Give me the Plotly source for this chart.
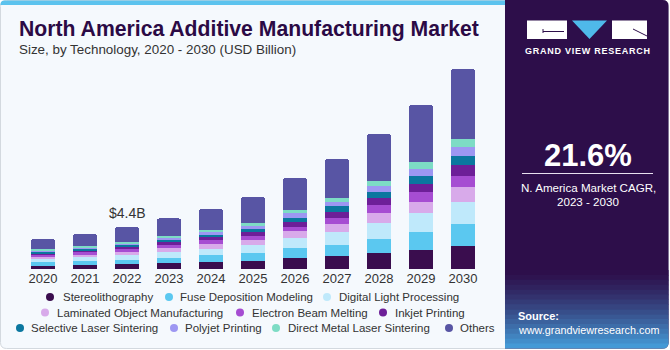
import plotly.graph_objects as go

# ---------------- data ----------------
years = ["2020", "2021", "2022", "2023", "2024", "2025", "2026", "2027", "2028", "2029", "2030"]

stereolithography = [0.35, 0.42, 0.49, 0.59, 0.73, 0.84, 1.11, 1.32, 1.67, 1.95, 2.44]
fuse_deposition = [0.35, 0.42, 0.49, 0.59, 0.70, 0.84, 1.04, 1.22, 1.50, 1.88, 2.27]
digital_light = [0.35, 0.38, 0.45, 0.56, 0.70, 0.87, 1.04, 1.36, 1.60, 1.99, 2.33]
laminated_object = [0.24, 0.28, 0.35, 0.42, 0.45, 0.52, 0.73, 0.84, 1.04, 1.22, 1.50]
electron_beam = [0.21, 0.24, 0.28, 0.35, 0.42, 0.42, 0.52, 0.63, 0.84, 0.98, 1.22]
inkjet = [0.17, 0.21, 0.24, 0.28, 0.35, 0.42, 0.49, 0.63, 0.73, 0.91, 1.12]
selective_laser = [0.14, 0.17, 0.21, 0.24, 0.24, 0.31, 0.45, 0.56, 0.66, 0.84, 0.97]
polyjet = [0.14, 0.14, 0.17, 0.21, 0.24, 0.31, 0.42, 0.45, 0.59, 0.66, 0.87]
direct_metal = [0.10, 0.14, 0.17, 0.21, 0.24, 0.31, 0.35, 0.45, 0.56, 0.73, 0.87]
others = [1.08, 1.29, 1.55, 1.85, 2.19, 2.68, 3.38, 4.04, 4.95, 5.99, 7.32]

series_names = ["Stereolithography", "Fuse Deposition Modeling", "Digital Light Processing",
                "Laminated Object Manufacturing", "Electron Beam Melting", "Inkjet Printing",
                "Selective Laser Sintering", "Polyjet Printing", "Direct Metal Laser Sintering", "Others"]
series_values = [stereolithography, fuse_deposition, digital_light, laminated_object, electron_beam,
                 inkjet, selective_laser, polyjet, direct_metal, others]

highlight_year = "2022"
cagr_text = "21.6%"

# ---------------- style ----------------
colors = ["#3a0d4e", "#5bc8f0", "#bfe9fb", "#d8aaea", "#a64dd2",
          "#6d1f98", "#0b779f", "#9d97f2", "#7ddcc5", "#5855a4"]

W, H = 670, 350
FONT = "Liberation Sans"
TXT = "#333333"


def X(px):
    return px / W


def Y(py):
    return 1 - py / H


def rrect_path(x0, y0, x1, y1, rtl=0, rtr=0, rbr=0, rbl=0):
    # pixel coordinates -> paper path
    def p(x, y):
        return f"{X(x):.5f},{Y(y):.5f}"
    s = f"M {p(x0 + rtl, y0)} L {p(x1 - rtr, y0)} Q {p(x1, y0)} {p(x1, y0 + rtr)} "
    s += f"L {p(x1, y1 - rbr)} Q {p(x1, y1)} {p(x1 - rbr, y1)} "
    s += f"L {p(x0 + rbl, y1)} Q {p(x0, y1)} {p(x0, y1 - rbl)} "
    s += f"L {p(x0, y0 + rtl)} Q {p(x0, y0)} {p(x0 + rtl, y0)} Z"
    return s


fig = go.Figure()
for name, vals, col in zip(series_names, series_values, colors):
    fig.add_trace(go.Bar(x=years, y=vals, name=name, marker_color=col,
                         marker_line_width=0, showlegend=False,
                         hovertemplate="%{x}: %{y:.2f}<extra>" + name + "</extra>"))

plot_left, plot_right, plot_top, plot_bottom = 22, 484, 60, 269
px_per_unit = 9.57
ymax = (plot_bottom - plot_top) / px_per_unit

shapes = []
# card
shapes.append(dict(type="path", xref="paper", yref="paper",
                   path=rrect_path(0.5, 0.5, 668.5, 348.5, 6, 6, 6, 6),
                   fillcolor="#f5f9fd", line=dict(color="#d3d9df", width=1), layer="below"))
# top blue strip
shapes.append(dict(type="path", xref="paper", yref="paper",
                   path=rrect_path(0.5, 0.5, 506, 5, 4, 0, 0, 0),
                   fillcolor="#5cc3ee", line=dict(width=0), layer="below"))
# right panel
shapes.append(dict(type="path", xref="paper", yref="paper",
                   path=rrect_path(505, 0, 668.5, 348.5, 0, 6, 6, 0),
                   fillcolor="#2d0e4a", line=dict(width=0), layer="below"))
# gradient at panel bottom
n_strips = 16
g_top, g_bot = 270, 348.5
c0 = (45, 14, 74)
c1 = (70, 160, 220)
for i in range(n_strips):
    t = (i + 0.5) / n_strips
    t2 = t ** 1.3
    c = tuple(int(c0[k] + (c1[k] - c0[k]) * t2) for k in range(3))
    y0 = g_top + (g_bot - g_top) * i / n_strips
    y1 = g_top + (g_bot - g_top) * (i + 1) / n_strips + 0.6
    rb = 6 if i == n_strips - 1 else 0
    shapes.append(dict(type="path", xref="paper", yref="paper",
                       path=rrect_path(505, y0, 668.5, min(y1, g_bot), 0, 0, rb, 0),
                       fillcolor=f"rgb{c}", line=dict(width=0), layer="below"))
# logo
shapes.append(dict(type="rect", xref="paper", yref="paper", x0=X(527), x1=X(567), y0=Y(39), y1=Y(20.5),
                   fillcolor="white", line=dict(width=0)))
shapes.append(dict(type="rect", xref="paper", yref="paper", x0=X(612), x1=X(647), y0=Y(39), y1=Y(20.5),
                   fillcolor="white", line=dict(width=0)))
shapes.append(dict(type="path", xref="paper", yref="paper",
                   path=f"M {X(572)},{Y(20.5)} L {X(607)},{Y(20.5)} L {X(589.5)},{Y(39)} Z",
                   fillcolor="#4fb9ea", line=dict(width=0)))
shapes.append(dict(type="line", xref="paper", yref="paper", x0=X(543), x1=X(564), y0=Y(31.5), y1=Y(31.5),
                   line=dict(color="#2d0e4a", width=1)))
shapes.append(dict(type="line", xref="paper", yref="paper", x0=X(543), x1=X(543), y0=Y(29), y1=Y(33),
                   line=dict(color="#2d0e4a", width=1)))
shapes.append(dict(type="line", xref="paper", yref="paper", x0=X(633), x1=X(647), y0=Y(29), y1=Y(36),
                   line=dict(color="#2d0e4a", width=1)))
# separator under CAGR
shapes.append(dict(type="line", xref="paper", yref="paper", x0=X(522), x1=X(653), y0=Y(173.5), y1=Y(173.5),
                   line=dict(color="#e8e0f0", width=1)))

annotations = []


def txt(text, x, y, size, color=TXT, bold=False, xanchor="left"):
    annotations.append(dict(text=f"<b>{text}</b>" if bold else text, x=X(x), y=Y(y),
                            xref="paper", yref="paper", xanchor=xanchor, yanchor="middle",
                            showarrow=False, font=dict(family=FONT, size=size, color=color)))


txt("North America Additive Manufacturing Market", 17, 29, 21.2, color="#2b0a45", bold=True)
txt("Size, by Technology, 2020 - 2030 (USD Billion)", 17, 50, 13.4)

# highlighted total label
hi = years.index(highlight_year)
hi_total = sum(v[hi] for v in series_values)
annotations.append(dict(text=f"&#36;{hi_total:.1f}B", x=hi, y=hi_total, xref="x", yref="y",
                        xanchor="center", yanchor="bottom", yshift=4, showarrow=False,
                        font=dict(family=FONT, size=14, color=TXT)))

# legend (manual, centered rows)
legend_rows = [[0, 1, 2], [3, 4, 5], [6, 7, 8, 9]]
legend_pos = {0: (50, 61), 1: (169, 178), 2: (327, 337), 3: (45, 55), 4: (240, 250), 5: (383, 393),
              6: (20, 29), 7: (174, 183), 8: (276, 286), 9: (449, 458)}
row_y = [297, 312.5, 328]
for r, row in enumerate(legend_rows):
    for idx in row:
        dx, tx = legend_pos[idx]
        yy = row_y[r]
        shapes.append(dict(type="circle", xref="paper", yref="paper", xsizemode="pixel", ysizemode="pixel",
                           xanchor=X(dx), yanchor=Y(yy), x0=-4, x1=4, y0=-4, y1=4,
                           fillcolor=colors[idx], line=dict(width=0)))
        txt(series_names[idx], tx, yy, 11.5)

# right panel text
brand = "\u200a".join("GRAND VIEW RESEARCH")
txt(brand, 587, 51, 9, color="#ffffff", bold=True, xanchor="center")
txt(cagr_text, 588, 155, 31, color="#ffffff", bold=True, xanchor="center")
txt("N. America Market CAGR,", 588, 187, 11.6, color="#ffffff", xanchor="center")
txt("2023 - 2030", 588, 201.5, 11.6, color="#ffffff", xanchor="center")
txt("Source:", 516, 316, 11, color="#ffffff", bold=True)
txt("www.grandviewresearch.com", 516, 330, 10.8, color="#ffffff")

fig.update_layout(
    width=W, height=H,
    margin=dict(l=0, r=0, t=0, b=0),
    paper_bgcolor="#ffffff", plot_bgcolor="rgba(0,0,0,0)",
    barmode="stack", bargap=0.43, barcornerradius=3,
    shapes=shapes, annotations=annotations,
    showlegend=False,
    font=dict(family=FONT, color=TXT),
    xaxis=dict(domain=[X(plot_left), X(plot_right)], type="category", range=[-0.5, len(years) - 0.5],
               showgrid=False, zeroline=False, showline=False, ticks="",
               tickfont=dict(family=FONT, size=13, color=TXT), fixedrange=True),
    yaxis=dict(domain=[Y(plot_bottom), Y(plot_top)], range=[0, ymax], visible=False, fixedrange=True),
)

fig.write_html("out.html")
